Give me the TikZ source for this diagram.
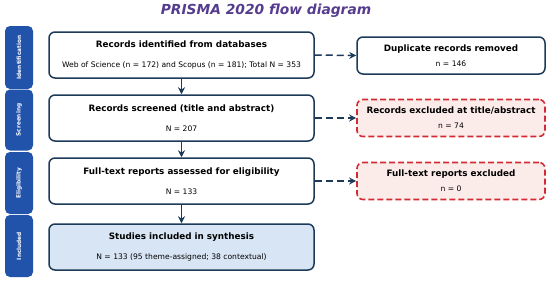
\documentclass[tikz,border=0pt]{standalone}
\usepackage{fontspec}
\setmainfont{DejaVu Sans}
\usetikzlibrary{positioning,arrows.meta}

\definecolor{navy}{HTML}{1D3B58}
\definecolor{phaseblue}{HTML}{2253AA}
\definecolor{titlepurple}{HTML}{553C8E}
\definecolor{exred}{HTML}{D42A33}
\definecolor{exfill}{HTML}{FBEBE9}
\definecolor{incfill}{HTML}{D8E5F5}

\newcommand{\headtxt}[1]{{\fontsize{8.8}{10}\selectfont\bfseries #1}}
\newcommand{\subtxt}[1]{{\fontsize{7.6}{9}\selectfont #1}}

\tikzset{
    mainbox/.style={draw=navy, line width=1.5pt, rounded corners=6pt, fill=white,
        minimum width=265pt, minimum height=46pt, align=center, inner sep=0pt},
    sidebox/.style={draw=navy, line width=1.5pt, rounded corners=6pt, fill=white,
        minimum width=188pt, minimum height=37pt, align=center, inner sep=0pt},
    exbox/.style={sidebox, draw=exred, fill=exfill, line width=1.6pt, dash pattern=on 6pt off 3pt},
    phase/.style={fill=phaseblue, rounded corners=5pt, minimum width=28pt,
        text=white, font=\fontsize{5.8}{7}\selectfont\bfseries, inner sep=0pt},
    flow/.style={->, navy, line width=1.5pt},
    drop/.style={->, navy, line width=1.5pt, dash pattern=on 7pt off 4pt}
}

\begin{document}
\begin{tikzpicture}[x=1pt, y=-1pt, >={Stealth[length=7pt,width=7pt]}]
    \useasboundingbox (0,0) rectangle (550,282);

    % Title
    \node[text=titlepurple, font=\fontsize{13.8}{15}\selectfont\bfseries\itshape] (title) at (266,11) {PRISMA 2020 flow diagram};

    % Phase bars
    \node[phase, minimum height=63pt] (pid) at (19,57.5) {\rotatebox{90}{Identification}};
    \node[phase, minimum height=61pt] (psc) at (19,120) {\rotatebox{90}{Screening}};
    \node[phase, minimum height=62pt] (pel) at (19,183) {\rotatebox{90}{Eligibility}};
    \node[phase, minimum height=62pt] (pin) at (19,246) {\rotatebox{90}{Included}};

    % Main flow
    \node[mainbox] (ident) at (181.5,55) {\headtxt{Records identified from databases}\\[8.5pt]
        \subtxt{Web of Science (n = 172) and Scopus (n = 181); Total N = 353}};
    \node[mainbox] (screen) at (181.5,118) {\headtxt{Records screened (title and abstract)}\\[8.5pt]
        \subtxt{N = 207}};
    \node[mainbox] (elig) at (181.5,181) {\headtxt{Full-text reports assessed for eligibility}\\[8.5pt]
        \subtxt{N = 133}};
    \node[mainbox, fill=incfill] (incl) at (181.5,247) {\headtxt{Studies included in synthesis}\\[8.5pt]
        \subtxt{N = 133 (95 theme-assigned; 38 contextual)}};

    % Removed records
    \node[sidebox] (dup) at (451,55.5) {\headtxt{Duplicate records removed}\\[3pt]
        \subtxt{n = 146}};
    \node[exbox] (exta) at (451,118) {\headtxt{Records excluded at title/abstract}\\[3pt]
        \subtxt{n = 74}};
    \node[exbox] (exft) at (451,181) {\headtxt{Full-text reports excluded}\\[3pt]
        \subtxt{n = 0}};

    % Arrows
    \draw[flow] (ident) -- (screen);
    \draw[flow] (screen) -- (elig);
    \draw[flow] (elig) -- (incl);
    \draw[drop] (ident.east) -- (dup.west);
    \draw[drop] (screen.east) -- (exta.west);
    \draw[drop] (elig.east) -- (exft.west);
\end{tikzpicture}
\end{document}
